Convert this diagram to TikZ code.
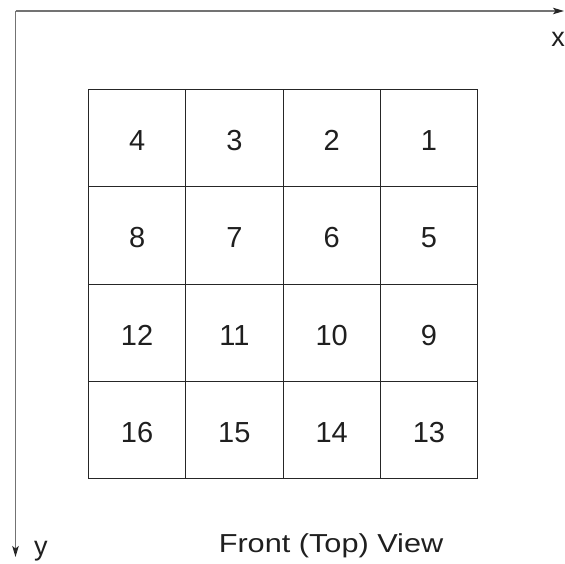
\documentclass[tikz,border=0pt]{standalone}
\usepackage{fontspec}
\setmainfont{Liberation Sans}
\usetikzlibrary{arrows.meta}
\begin{document}
\begin{tikzpicture}[x=1pt,y=-1pt,
  cell/.style={draw=black!85,line width=0.9pt,minimum size=97.25pt,inner sep=0pt,
    font=\fontsize{29}{34}\selectfont,text=black!88,text height=24.8pt,text depth=0pt},
  axis/.style={draw=black!55,line width=1.2pt,-{Stealth[length=11pt,width=6.5pt,inset=2.5pt,color=black!85]}},
  lbl/.style={font=\fontsize{27}{32}\selectfont,text=black!88,inner sep=0pt}]
\useasboundingbox (0,0) rectangle (565,564);
\coordinate (o) at (15.5,11);
\coordinate (xe) at (564,11);
\coordinate (ye) at (15.5,557);
\draw[axis] (o) -- (xe);
\draw[axis] (o) -- (ye);
\node[lbl,anchor=base] (xl) at (558,47) {x};
\node[lbl,anchor=base] (yl) at (41,555) {y};
\foreach \r/\a/\b/\c/\d in {0/4/3/2/1,1/8/7/6/5,2/12/11/10/9,3/16/15/14/13}{
  \node[cell] (c\a) at ({88.5+97.25*0.5},{89.5+97.25*(\r+0.5)}) {\a};
  \node[cell] (c\b) at ({88.5+97.25*1.5},{89.5+97.25*(\r+0.5)}) {\b};
  \node[cell] (c\c) at ({88.5+97.25*2.5},{89.5+97.25*(\r+0.5)}) {\c};
  \node[cell] (c\d) at ({88.5+97.25*3.5},{89.5+97.25*(\r+0.5)}) {\d};
}
\node[lbl,anchor=base,font=\fontsize{26}{31}\selectfont,xscale=1.18] (title) at (331,552) {Front (Top) View};
\end{tikzpicture}
\end{document}
